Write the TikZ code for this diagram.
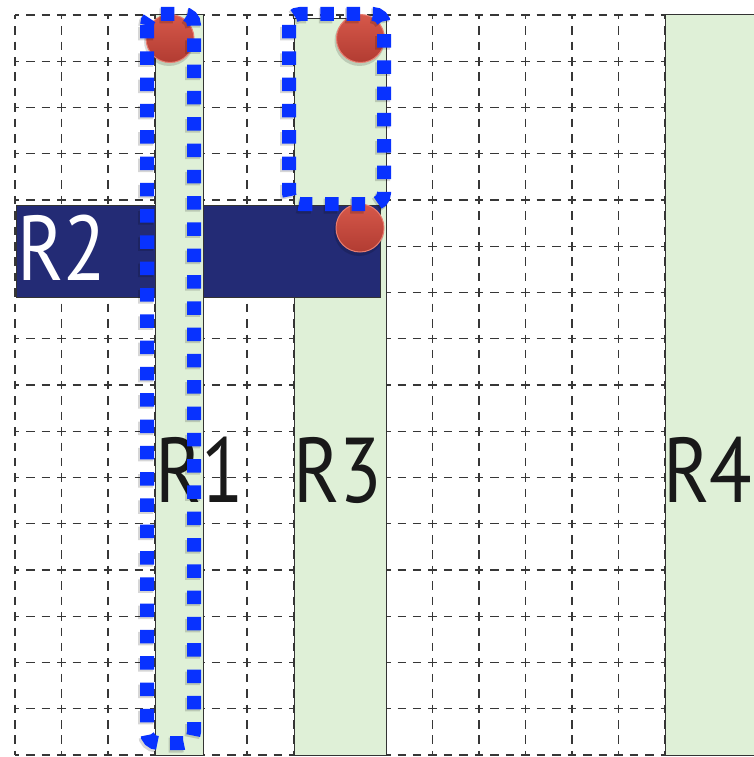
\documentclass[tikz,border=0pt]{standalone}
\usepackage{fontspec}
\setmainfont{PT Sans}
\newfontfamily\labelfont[FakeStretch=0.85]{PT Sans}
\begin{document}
\begin{tikzpicture}[x=1pt,y=-1pt]
\definecolor{gridc}{RGB}{55,55,55}
\definecolor{rgreen}{RGB}{223,240,215}
\definecolor{rnavy}{RGB}{35,43,117}
\definecolor{dotblue}{RGB}{8,50,255}
\definecolor{redtop}{RGB}{214,88,74}
\definecolor{redbot}{RGB}{178,60,50}
\definecolor{redrim}{RGB}{232,125,112}
\tikzset{
 vgrid/.style={draw=gridc, line width=1.4pt, dash pattern=on 8.5pt off 6.92pt, dash phase=4.25pt},
 hgrid/.style={draw=gridc, line width=1.4pt, dash pattern=on 8.5pt off 6.97pt, dash phase=4.25pt},
 greenbox/.style={fill=rgreen, draw=black!80, line width=1pt, inner sep=0pt, anchor=north west},
 navybox/.style={fill=rnavy, draw=black!80, line width=1pt, inner sep=0pt, anchor=north west},
 bigtext/.style={font=\labelfont\fontsize{92}{92}\selectfont, inner sep=0pt, anchor=base west},
 hole/.style={circle, minimum size=48pt, inner sep=0pt, top color=redtop, bottom color=redbot, draw=redrim, line width=1pt},
 holeshadow/.style={circle, minimum size=50pt, inner sep=0pt, fill=black, opacity=0.15},
 dotoutline/.style={draw=dotblue, line width=14pt, dash pattern=on 13.5pt off 12.8pt, rounded corners=11pt},
 dotshadow/.style={draw=black, opacity=0.16, line width=15pt, dash pattern=on 13.5pt off 12.8pt, rounded corners=11pt},
}
\clip (0,0) rectangle (754,757);
\fill[white] (0,0) rectangle (754,757);
% grid
\foreach \i in {0,...,14} {
  \draw[vgrid] (15+\i*46.4, 15) -- (15+\i*46.4, 755);
}
\foreach \j in {0,...,16} {
  \draw[hgrid] (15, 15+\j*46.25) -- (665, 15+\j*46.25);
}
% rectangles
\node[greenbox, minimum width=92pt, minimum height=737pt] (R3) at (294,18) {};
\node[greenbox, minimum width=120pt, minimum height=741pt] (R4) at (665,14) {};
\node[navybox, minimum width=364pt, minimum height=92pt] (R2) at (16,205) {};
\node[greenbox, minimum width=48pt, minimum height=741pt] (R1) at (155,14) {};
% labels
\node[bigtext, text=white] (t2) at (17,280) {R2};
\node[bigtext, text=black!90] (t1) at (155,502) {R1};
\node[bigtext, text=black!90] (t3) at (293,502) {R3};
\node[bigtext, text=black!90] (t4) at (663,502) {R4};
% red circles
\node[holeshadow] at (169,41) {};
\node[holeshadow] at (359.5,41) {};
\node[holeshadow] at (359,231) {};
\node[hole] (c1) at (170,38.5) {};
\node[hole] (c2) at (360.5,38.5) {};
\node[hole] (c3) at (360,228) {};
% blue dotted outlines
\draw[dotshadow] (145.5,16) rectangle (192.5,745);
\draw[dotshadow] (287.5,16) rectangle (382.5,206);
\draw[dotoutline] (147,14) rectangle (194,743);
\draw[dotoutline] (289,14) rectangle (384,204);
\end{tikzpicture}
\end{document}
